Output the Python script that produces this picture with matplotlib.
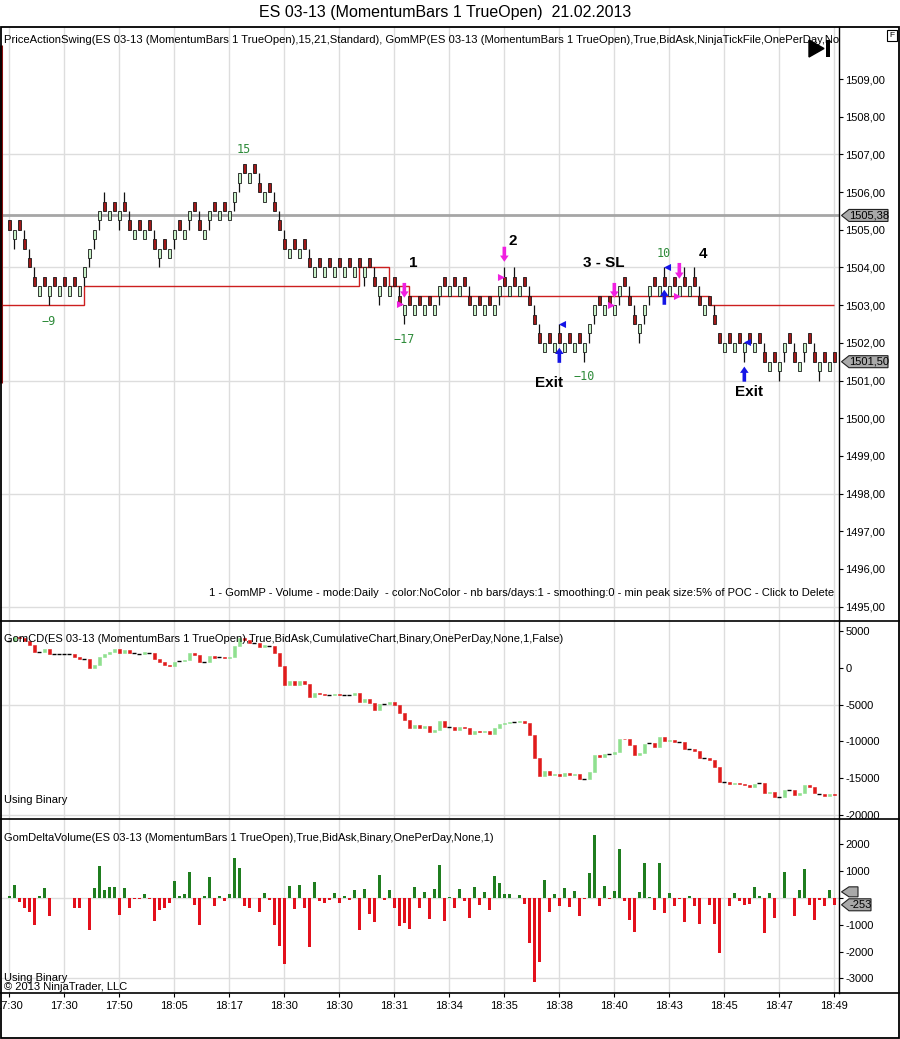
import matplotlib
matplotlib.use('Agg')
import matplotlib.pyplot as plt
import numpy as np
from matplotlib.patches import Rectangle, Polygon, FancyArrowPatch
from matplotlib.lines import Line2D

plt.rcParams['font.family'] = ['Liberation Sans', 'DejaVu Sans']

# ---------------- DATA ----------------
# momentum bars (1 tick = 0.25): bottom of body, direction, extra wick
body_low = [
    1505.0, 1504.75, 1505.0, 1504.5, 1504.0, 1503.5, 1503.25, 1503.5, 1503.25, 1503.5,
    1503.25, 1503.5, 1503.25, 1503.5, 1503.25, 1503.75, 1504.25, 1504.75, 1505.25, 1505.5,
    1505.25, 1505.5, 1505.25, 1505.5, 1505.0, 1504.75, 1505.0, 1504.75, 1505.0, 1504.5,
    1504.25, 1504.5, 1504.25, 1504.75, 1505.0, 1504.75, 1505.25, 1505.5, 1505.0, 1504.75,
    1505.25, 1505.5, 1505.25, 1505.5, 1505.25, 1505.75, 1506.25, 1506.5, 1506.25, 1506.5,
    1506.0, 1505.75, 1506.0, 1505.5, 1505.0, 1504.5, 1504.25, 1504.5, 1504.25, 1504.5,
    1504.0, 1503.75, 1504.0, 1503.75, 1504.0, 1503.75, 1504.0, 1503.75, 1504.0, 1503.75,
    1504.0, 1503.75, 1504.0, 1503.5, 1503.25, 1503.5, 1503.25, 1503.5, 1503.0, 1502.75,
    1503.0, 1502.75, 1503.0, 1502.75, 1503.0, 1502.75, 1503.25, 1503.5, 1503.25, 1503.5,
    1503.25, 1503.5, 1503.0, 1502.75, 1503.0, 1502.75, 1503.0, 1502.75, 1503.25, 1503.5,
    1503.25, 1503.5, 1503.25, 1503.5, 1503.0, 1502.5, 1502.0, 1501.75, 1502.0, 1501.75,
    1502.0, 1501.75, 1502.0, 1501.75, 1502.0, 1501.75, 1502.25, 1502.75, 1503.0, 1502.75,
    1503.0, 1502.75, 1503.25, 1503.5, 1503.0, 1502.5, 1502.25, 1502.75, 1503.25, 1503.5,
    1503.25, 1503.5, 1503.25, 1503.5, 1503.25, 1503.5, 1503.25, 1503.5, 1503.0, 1502.75,
    1503.0, 1502.5, 1502.0, 1501.75, 1502.0, 1501.75, 1502.0, 1501.75, 1502.0, 1501.75,
    1502.0, 1501.5, 1501.25, 1501.5, 1501.25, 1501.75, 1502.0, 1501.5, 1501.25, 1501.75,
    1502.0, 1501.5, 1501.25, 1501.5, 1501.25, 1501.5,
]
bar_dir = ("DUDDDDUDUD" "UDUDUUUUUD" "UDUDDUDUDD" "UDUUDUUDDU" "UDUDUUUDUD"
           "DUDDDDUDU"
           "DDUDUDUDUD" "UDUDDUDUDD" "UDUDUDUUDU" "DUDDUDUDUU" "DUDUDDDDUD" "UDUDU"
           "DUUUDUDUUD" "DDUUUDUDUD" "UDUDDUDDDU" "DUDUDUDDUD" "UUDDUUDDUD" "UD")
bar_wick = ("-d-uuu--d-" "-----ddddu" "--duu----u" "d--d--d-u-" "d----dd---"
            "u--uuu---"
            "-u--------" "--d-ud---u" "d------d--" "---u-----d" "u-u--uuu--" "-u---"
            "-ddd----d-" "uuddd--u--" "-u-uu--u--" "---d---u--" "dd-u-d-ud-" "--")

# delta volume per bar
delta = [
    75, 480, -150, -355, -540, -1000, 75, 370, -690, 0,
    0, 0, 0, -355, -380, 0, -1190, 370, 1180, 295,
    405, 405, -625, 370, -380, -25, -25, 150, -25, -870,
    -450, -355, -170, 625, 75, 150, 960, -245, -1000, 75,
    775, -295, 75, -120, 150, 1510, 1115, -295, -355, 0,
    -540, 185, -85, -1000, -1790, -2480, 440, -420, 500, -380,
    -1830, 590, -100, -170, -60, 185, -170, 75, -60, 295,
    -1190, 330, -590, -910, 870, -60, 295, -380, -1055, -945,
    -1165, 405, -390, 220, -800, 330, 1250, -870, 35, -390,
    330, -100, -760, 405, -245, 220, -465, 810, 550, 150,
    150, 0, 110, -210, -1680, -3140, -2380, 660, -530, 150,
    -295, 370, -320, 260, -690, -50, 920, 2355, -295, 440,
    -25, 260, 1840, -100, -835, -1275, 220, 1290, 35, -430,
    1290, -575, 185, -295, -25, -910, 75, -295, -980, 0,
    -245, -980, -2050, 0, -295, 185, -100, -245, -210, 405,
    75, -1300, 185, -760, 0, 960, 0, -690, 295, 1070,
    -245, -835, -60, -295, 295, -253,
]
cd_start = 3625

# GomMP POC step line
step_edges = [-0.87, 16, 71, 77, 81, 141, 166]
step_levels = [1503.0, 1503.5, 1504.0, 1503.5, 1503.25, 1503.0]
ref_line = 1505.38
last_price = 1501.50

# swing labels
swing_text = ['15', '\u22129', '\u221217', '\u221210', '10']
swing_x = [47.9, 8.9, 79.9, 115.9, 131.9]
swing_y = [1507.12, 1502.56, 1502.08, 1501.10, 1504.36]

# trade labels
trade_text = ['1', '2', '3 - SL', '4', 'Exit', 'Exit']
trade_x = [81.7, 101.7, 119.9, 139.7, 108.9, 148.9]
trade_y = [1504.12, 1504.69, 1504.13, 1504.36, 1500.94, 1500.70]

# arrows (bar, tail, tip)
mag_arrows = [(80, 1503.59, 1503.20), (100, 1504.55, 1504.15),
              (122, 1503.59, 1503.20), (135, 1504.12, 1503.70)]
blue_arrows = [(111, 1501.47, 1501.87), (132, 1503.01, 1503.41),
               (148, 1500.97, 1501.37)]
mag_tri_x = [79.2, 99.3, 121.3, 134.5]
mag_tri_y = [1503.04, 1503.76, 1503.01, 1503.25]
blue_tri_x = [111.5, 132.5, 148.6]
blue_tri_y = [1502.51, 1504.0, 1502.01]

xtick_labels = ['17:30', '17:30', '17:50', '18:05', '18:17', '18:30', '18:30', '18:31',
                '18:34', '18:35', '18:38', '18:40', '18:43', '18:45', '18:47', '18:49']
price_ticks = list(range(1495, 1510))
cd_ticks = [5000, 0, -5000, -10000, -15000, -20000]
dv_ticks = [2000, 1000, 0, -1000, -2000, -3000]

# ---------------- FIGURE ----------------
W, H = 900, 1039
fig = plt.figure(figsize=(W / 100, H / 100), dpi=100)


def fx(px):
    return px / W


def fy(py):
    return 1 - py / H


AX_R = 839
ax1 = fig.add_axes([0, fy(621), fx(AX_R), fy(27) - fy(621)])
ax2 = fig.add_axes([0, fy(819), fx(AX_R), fy(621) - fy(819)])
ax3 = fig.add_axes([0, fy(993), fx(AX_R), fy(819) - fy(993)])

n = len(body_low)
xs = np.arange(1, n + 1)
xlim = (-0.867, 166.934)
grid_bars = list(range(1, n + 1, 11))
GRID = '#dddddd'

for ax in (ax1, ax2, ax3):
    ax.set_xlim(*xlim)
    for s in ('left', 'top', 'bottom'):
        ax.spines[s].set_visible(False)
    ax.spines['right'].set_color('black')
    ax.spines['right'].set_linewidth(1)
    ax.yaxis.tick_right()
    ax.tick_params(axis='y', direction='out', length=3, width=0.8,
                   labelsize=8, pad=1.5, colors='black')
    for b in grid_bars:
        ax.axvline(b, color=GRID, lw=1, zorder=0)

# ----- price panel -----
ax1.set_ylim(1494.62, 1510.38)
for g in (1495, 1498, 1501, 1504, 1507):
    ax1.axhline(g, color=GRID, lw=1, zorder=0)
ax1.set_xticks([])
ax1.set_yticks(price_ticks)
ax1.set_yticklabels([f"{v:.2f}".replace('.', ',') for v in price_ticks])

ax1.axhline(ref_line, color='#a6a6a6', lw=2, zorder=1)
ax1.stairs(step_levels, step_edges, baseline=None, color='#cc1f1f', lw=1, zorder=2)
ax1.plot([-0.6, -0.6], [1500.94, 1509.9], color='#8b1010', lw=2.2, zorder=2,
         solid_capstyle='butt')

bl = np.array(body_low)
lows = bl.copy()
highs = bl + 0.25
for i, w in enumerate(bar_wick):
    if w == 'u':
        highs[i] = bl[i] + 0.5
    elif w == 'd':
        lows[i] = bl[i] - 0.25
ax1.vlines(xs, lows, highs, color='#111111', lw=0.9, zorder=3)
pcols = ['#a01818' if d == 'D' else '#c8f2c8' for d in bar_dir]
ax1.bar(xs, 0.25, bottom=bl, width=0.62, color=pcols, edgecolor='#1a1a1a',
        linewidth=0.6, zorder=4)

for t, x, y in zip(swing_text, swing_x, swing_y):
    ax1.text(x, y, t, color='#2e8b3a', fontsize=8.5, family='DejaVu Sans Mono',
             ha='center', va='center', zorder=6)
for t, x, y in zip(trade_text, trade_x, trade_y):
    ax1.text(x, y, t, color='black', fontsize=11, fontweight='bold',
             ha='center', va='center', zorder=6)

arrow_style = 'simple,head_width=0.62,head_length=0.45,tail_width=0.26'
for (b, y0, y1) in mag_arrows:
    ax1.add_patch(FancyArrowPatch((b, y0), (b, y1), arrowstyle=arrow_style,
                                  mutation_scale=10, color='#f020e0', lw=0,
                                  shrinkA=0, shrinkB=0, zorder=7))
for (b, y0, y1) in blue_arrows:
    ax1.add_patch(FancyArrowPatch((b, y0), (b, y1), arrowstyle=arrow_style,
                                  mutation_scale=10, color='#1414e6', lw=0,
                                  shrinkA=0, shrinkB=0, zorder=7))
ax1.scatter(mag_tri_x, mag_tri_y, marker='>', s=26, color='#f020e0', lw=0, zorder=7)
ax1.scatter(blue_tri_x, blue_tri_y, marker='<', s=26, color='#1414e6', lw=0, zorder=7)

ax1.text(4 / AX_R, 1 - (40 - 27) / 594,
         "PriceActionSwing(ES 03-13 (MomentumBars 1 TrueOpen),15,21,Standard), "
         "GomMP(ES 03-13 (MomentumBars 1 TrueOpen),True,BidAsk,NinjaTickFile,OnePerDay,None,1)",
         transform=ax1.transAxes, fontsize=8.1, va='center', ha='left', clip_on=True)
ax1.text(834 / AX_R, 1 - (593 - 27) / 594,
         "1 - GomMP - Volume - mode:Daily  - color:NoColor - nb bars/days:1 - "
         "smoothing:0 - min peak size:5% of POC - Click to Delete",
         transform=ax1.transAxes, fontsize=8, va='center', ha='right')


def value_box(ax, yval, text, px_per_unit, x_right=888, hpx=12, z=10):
    tr = ax.get_yaxis_transform()
    h = hpx / 2 / px_per_unit
    xt, xb, xr = 841.5 / AX_R, 849 / AX_R, x_right / AX_R
    poly = Polygon([(xt, yval), (xb, yval + h), (xr, yval + h), (xr, yval - h),
                    (xb, yval - h)], closed=True, transform=tr, facecolor='#a9a9a9',
                   edgecolor='#222222', lw=0.8, clip_on=False, zorder=z)
    ax.add_patch(poly)
    if text:
        ax.text((xb + xr) / 2 + 0.5 / AX_R, yval, text, transform=tr, fontsize=8,
                ha='center', va='center', clip_on=False, zorder=z + 1)


value_box(ax1, ref_line, f"{ref_line:.2f}".replace('.', ','), 37.69)
value_box(ax1, last_price, f"{last_price:.2f}".replace('.', ','), 37.69)

# ----- cumulative delta panel -----
cd_close = cd_start + np.cumsum(delta)
cd_open = np.concatenate([[cd_start], cd_close[:-1]])
ax2.set_ylim(-20543, 6359)
for g in (-5000, -20000):
    ax2.axhline(g, color=GRID, lw=1, zorder=0)
ax2.set_xticks([])
ax2.set_yticks(cd_ticks)
ax2.set_yticklabels([str(v) for v in cd_ticks])
dv = np.array(delta)
big = np.abs(dv) >= 90
ccols = np.where(dv > 0, '#8fe08f', '#e01b1b')
ax2.bar(xs[big], (cd_close - cd_open)[big], bottom=cd_open[big], width=0.62,
        color=ccols[big], edgecolor=ccols[big], linewidth=0.4, zorder=3)
ax2.hlines(cd_close[~big], xs[~big] - 0.42, xs[~big] + 0.42, color='black', lw=1, zorder=3)
ax2.text(4 / AX_R, 1 - (639 - 621) / 198,
         "GomCD(ES 03-13 (MomentumBars 1 TrueOpen),True,BidAsk,CumulativeChart,Binary,OnePerDay,None,1,False)",
         transform=ax2.transAxes, fontsize=8, va='center', ha='left')
ax2.text(4 / AX_R, 1 - (800 - 621) / 198, "Using Binary",
         transform=ax2.transAxes, fontsize=8, va='center', ha='left')

# ----- delta volume panel -----
ax3.set_ylim(-3545, 2948)
for g in (0, -3000):
    ax3.axhline(g, color=GRID, lw=1, zorder=0)
ax3.set_yticks(dv_ticks)
# the 0 label sits hidden under the value boxes in the reference
ax3.set_yticklabels(['' if v == 0 else str(v) for v in dv_ticks])
dcols = np.where(dv > 0, '#1f7d1f', '#e3101c')
ax3.bar(xs, dv, width=0.62, color=dcols, linewidth=0, zorder=3)
ax3.set_xticks(grid_bars)
ax3.set_xticklabels(xtick_labels)
ax3.tick_params(axis='x', direction='out', length=3, width=0.8, labelsize=8, pad=3)
ax3.text(4 / AX_R, 1 - (838 - 819) / 174,
         "GomDeltaVolume(ES 03-13 (MomentumBars 1 TrueOpen),True,BidAsk,Binary,OnePerDay,None,1)",
         transform=ax3.transAxes, fontsize=8, va='center', ha='left')
ax3.text(4 / AX_R, 1 - (978 - 819) / 174, "Using Binary",
         transform=ax3.transAxes, fontsize=8, va='center', ha='left')
ax3.text(4 / AX_R, 1 - (987 - 819) / 174, "\u00a9 2013 NinjaTrader, LLC",
         transform=ax3.transAxes, fontsize=8, va='center', ha='left')
value_box(ax3, 230, '', 0.0268, x_right=858, hpx=10, z=9)
value_box(ax3, delta[-1], str(delta[-1]), 0.0268, x_right=871, hpx=12, z=10)

# ----- frame, separators, title, icons -----
fig.add_artist(Rectangle((fx(0.5), fy(1038)), fx(898.5), fy(27) - fy(1038), fill=False,
                         edgecolor='black', lw=1.3, transform=fig.transFigure))
for yy in (621, 819, 993):
    fig.add_artist(Line2D([0, fx(899)], [fy(yy), fy(yy)], color='black', lw=1.2,
                          transform=fig.transFigure))
fig.text(fx(445), fy(13), "ES 03-13 (MomentumBars 1 TrueOpen)  21.02.2013",
         ha='center', va='center', fontsize=11.5)
fig.add_artist(Rectangle((fx(887), fy(41)), fx(10), fy(30) - fy(41), fill=True,
                         facecolor='white', edgecolor='black', lw=0.8,
                         transform=fig.transFigure))
fig.text(fx(892), fy(35.5), 'F', ha='center', va='center', fontsize=6)
fig.add_artist(Polygon([(fx(809), fy(40)), (fx(809), fy(57)), (fx(824), fy(48.5))],
                       closed=True, facecolor='black', edgecolor='black',
                       transform=fig.transFigure, zorder=20))
fig.add_artist(Rectangle((fx(826), fy(57)), fx(4), fy(40) - fy(57), facecolor='black',
                         edgecolor='none', transform=fig.transFigure, zorder=20))

fig.savefig('out.png', dpi=100)
